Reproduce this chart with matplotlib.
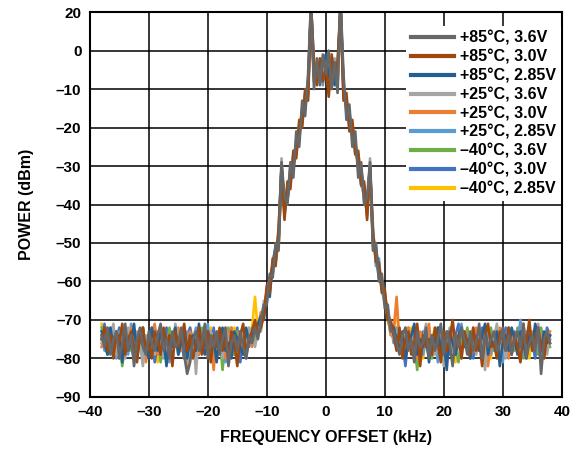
import numpy as np
import matplotlib
matplotlib.use('Agg')
import matplotlib.pyplot as plt

plt.rcParams['font.family'] = ['Liberation Sans', 'DejaVu Sans']
plt.rcParams['font.weight'] = 'bold'

# frequency grid of the traces (kHz), one point every 0.5 kHz
freq_start, freq_step = -38.0, 0.5

labels = ['+85°C, 3.6V', '+85°C, 3.0V', '+85°C, 2.85V',
          '+25°C, 3.6V', '+25°C, 3.0V', '+25°C, 2.85V',
          '–40°C, 3.6V', '–40°C, 3.0V', '–40°C, 2.85V']
colors = ['#676767', '#9E480E', '#255E91',
          '#A5A5A5', '#ED7D31', '#5B9BD5',
          '#70AD47', '#4472C4', '#FFC000']

# power readings (dBm): floor -38..-11.5 kHz, main lobe -11..11 kHz, floor 11.5..38 kHz
p85_36 = [-74, -77, -72, -79, -75, -73, -80, -76, -71, -78,
          -74, -82, -75, -72, -77, -79, -73, -76, -78, -74,
          -71, -78, -75, -80, -73, -77, -76, -72, -79, -84,
          -81, -75, -73, -78, -76, -71, -80, -74, -77, -73,
          -79, -75, -72, -82, -76, -74, -78, -73, -77, -80,
          -74, -76, -72, -75,
          -70, -66, -66, -58, -59, -50, -52, -29, -38, -40, -29, -33, -21, -25, -13,
          -17, -6, 13, -10, -2, -9, -1, -6, 0, -10, -3, -11, 13, -6, -18,
          -14, -25, -21, -33, -29, -40, -38, -29, -52, -50, -60, -58, -67, -66, -73,
          -73, -76, -79, -74, -72, -78, -75, -81, -73, -77,
          -76, -72, -80, -74, -78, -75, -71, -79, -73, -76,
          -82, -74, -77, -72, -75, -79, -73, -78, -76, -71,
          -80, -74, -77, -75, -73, -78, -76, -72, -78, -74,
          -79, -75, -73, -77, -71, -80, -76, -74, -78, -72,
          -84, -75, -73, -76]
p85_30 = [-75, -72, -78, -74, -80, -73, -76, -71, -79, -75,
          -73, -77, -81, -74, -72, -78, -76, -80, -73, -75,
          -79, -72, -76, -74, -82, -73, -77, -75, -71, -78,
          -74, -80, -76, -72, -79, -75, -73, -81, -74, -77,
          -72, -78, -75, -80, -73, -76, -82, -74, -71, -79,
          -75, -73, -70, -74,
          -72, -69, -61, -63, -54, -56, -46, -31, -44, -34, -36, -26, -28, -18, -20,
          -10, -13, 12, -3, -9, -2, -8, -4, -12, -1, -7, -3, 12, -13, -11,
          -21, -18, -27, -26, -35, -34, -44, -31, -47, -55, -55, -63, -62, -70, -70,
          -74, -78, -72, -80, -75, -73, -79, -76, -71, -82,
          -74, -77, -75, -79, -72, -76, -81, -73, -78, -75,
          -70, -77, -74, -80, -73, -76, -79, -72, -78, -75,
          -82, -74, -71, -77, -76, -80, -73, -75, -78, -72,
          -79, -74, -77, -81, -73, -76, -70, -78, -75, -72,
          -77, -80, -74, -76]
p85_285 = [-73, -76, -79, -72, -77, -75, -74, -81, -73, -78,
           -76, -71, -79, -75, -74, -77, -80, -72, -76, -78,
           -73, -75, -82, -74, -77, -72, -79, -76, -73, -80,
           -75, -74, -78, -71, -77, -79, -73, -76, -75, -81,
           -74, -72, -78, -76, -80, -73, -75, -77, -79, -72,
           -76, -74, -73, -71,
           -69, -70, -62, -64, -55, -51, -50, -30, -39, -39, -31, -31, -24, -22, -15,
           -15, -8, 11, -7, -4, -8, -3, -1, -7, -5, -9, -4, 11, -9, -15,
           -16, -22, -24, -30, -31, -36, -40, -30, -50, -51, -58, -60, -63, -69, -71,
           -72, -75, -78, -73, -80, -76, -74, -71, -79, -75,
           -77, -73, -81, -74, -76, -72, -78, -75, -83, -73,
           -76, -79, -74, -72, -77, -75, -80, -73, -76, -78,
           -74, -71, -79, -75, -77, -73, -82, -76, -74, -78,
           -72, -75, -79, -73, -76, -80, -74, -77, -71, -75,
           -78, -73, -76, -74]
p25_36 = [-76, -73, -78, -75, -71, -79, -74, -77, -80, -72,
          -75, -78, -73, -76, -82, -74, -77, -72, -79, -75,
          -73, -80, -76, -74, -78, -71, -75, -77, -73, -81,
          -76, -74, -84, -72, -77, -75, -79, -73, -76, -78,
          -74, -80, -72, -75, -77, -73, -79, -76, -74, -78,
          -72, -75, -77, -73,
          -73, -65, -65, -60, -56, -55, -48, -28, -42, -36, -34, -28, -26, -19, -18,
          -12, -11, 12, -5, -8, -4, -6, -2, -4, -7, -2, -8, 12, -12, -12,
          -19, -20, -26, -28, -34, -38, -42, -28, -48, -54, -56, -62, -66, -67, -72,
          -75, -73, -77, -79, -72, -76, -74, -80, -73, -78,
          -75, -71, -77, -74, -79, -76, -73, -82, -75, -72,
          -78, -74, -76, -80, -73, -77, -75, -72, -79, -74,
          -76, -83, -73, -77, -75, -71, -78, -74, -80, -76,
          -73, -77, -75, -79, -72, -76, -74, -78, -73, -71,
          -77, -75, -79, -74]
p25_30 = [-77, -74, -72, -78, -76, -73, -80, -75, -79, -74,
          -72, -76, -78, -75, -73, -81, -77, -74, -71, -79,
          -75, -73, -77, -80, -74, -76, -72, -78, -75, -82,
          -73, -77, -75, -79, -74, -72, -78, -76, -83, -73,
          -75, -77, -80, -74, -72, -78, -75, -73, -79, -76,
          -74, -77, -71, -72,
          -68, -68, -63, -59, -58, -52, -51, -32, -40, -38, -30, -30, -23, -23, -16,
          -14, -9, 13, -8, -5, -7, -2, -5, -3, -4, -8, -6, 13, -8, -16,
          -17, -23, -23, -31, -32, -39, -39, -32, -49, -53, -57, -59, -65, -69, -74,
          -73, -64, -76, -79, -74, -72, -78, -75, -80, -73,
          -77, -74, -71, -79, -76, -73, -78, -75, -81, -74,
          -72, -77, -75, -79, -73, -76, -80, -74, -72, -78,
          -75, -73, -82, -76, -74, -79, -72, -77, -75, -80,
          -73, -76, -78, -74, -71, -79, -75, -73, -77, -76,
          -74, -80, -75, -73]
p25_285 = [-74, -78, -75, -72, -77, -80, -73, -76, -74, -79,
           -71, -75, -77, -73, -80, -76, -74, -78, -72, -75,
           -79, -73, -76, -81, -74, -72, -78, -75, -77, -73,
           -80, -75, -72, -76, -78, -74, -71, -79, -75, -77,
           -73, -76, -81, -74, -72, -78, -75, -73, -77, -80,
           -75, -73, -74, -72,
           -71, -67, -64, -62, -55, -54, -47, -30, -43, -35, -35, -27, -27, -20, -19,
           -11, -12, 12, -4, -7, -3, -9, -3, -6, -2, -5, -9, 12, -11, -13,
           -20, -19, -27, -27, -33, -35, -43, -30, -46, -56, -54, -62, -64, -68, -71,
           -76, -72, -74, -78, -73, -77, -75, -80, -72, -76,
           -79, -74, -73, -77, -75, -81, -72, -78, -74, -76,
           -73, -79, -75, -71, -77, -74, -80, -76, -73, -78,
           -75, -72, -77, -79, -74, -76, -73, -81, -75, -72,
           -78, -74, -76, -70, -79, -73, -77, -75, -72, -78,
           -74, -76, -73, -75]
m40_36 = [-72, -76, -79, -74, -77, -73, -75, -82, -76, -74,
          -78, -73, -80, -75, -72, -77, -79, -74, -76, -73,
          -81, -75, -78, -72, -76, -74, -79, -77, -73, -75,
          -80, -74, -76, -78, -72, -77, -75, -73, -79, -76,
          -74, -83, -75, -72, -77, -79, -73, -76, -74, -78,
          -75, -72, -76, -73,
          -70, -69, -62, -61, -58, -51, -50, -31, -40, -39, -32, -29, -25, -21, -16,
          -14, -9, 11, -8, -3, -6, -5, -2, -9, -3, -6, -5, 11, -10, -14,
          -17, -22, -25, -29, -33, -36, -41, -31, -51, -52, -58, -61, -64, -70, -73,
          -74, -77, -73, -79, -75, -72, -78, -76, -83, -74,
          -77, -75, -73, -80, -76, -72, -78, -74, -79, -75,
          -73, -77, -81, -74, -76, -72, -79, -75, -77, -73,
          -76, -80, -74, -72, -78, -75, -77, -73, -79, -76,
          -74, -78, -72, -75, -80, -76, -73, -77, -75, -79,
          -72, -76, -74, -77]
m40_30 = [-75, -71, -77, -74, -78, -76, -72, -79, -75, -73,
          -77, -80, -74, -76, -72, -78, -75, -73, -81, -76,
          -74, -77, -72, -79, -75, -73, -78, -76, -80, -74,
          -72, -77, -75, -79, -73, -76, -74, -78, -72, -80,
          -75, -73, -77, -76, -74, -79, -72, -81, -75, -73,
          -77, -74, -75, -73,
          -72, -67, -65, -59, -56, -55, -49, -30, -42, -38, -33, -30, -24, -22, -17,
          -13, -11, 12, -6, -6, -5, -4, -4, -5, -6, -4, -7, 12, -9, -15,
          -18, -21, -24, -30, -35, -37, -40, -30, -49, -53, -59, -61, -65, -68, -72,
          -75, -73, -78, -76, -82, -74, -77, -72, -79, -75,
          -73, -76, -80, -74, -78, -72, -75, -77, -73, -79,
          -76, -74, -71, -78, -75, -73, -77, -80, -74, -76,
          -72, -79, -75, -73, -77, -74, -78, -76, -72, -75,
          -79, -73, -77, -75, -71, -78, -74, -76, -80, -73,
          -75, -77, -72, -74]
m40_285 = [-71, -75, -73, -78, -74, -76, -72, -79, -75, -77,
           -73, -76, -80, -74, -72, -78, -75, -73, -77, -81,
           -74, -76, -72, -79, -75, -73, -77, -74, -80, -76,
           -72, -75, -78, -73, -76, -74, -79, -72, -77, -75,
           -73, -80, -76, -74, -78, -72, -75, -77, -73, -76,
           -74, -72, -64, -73,
           -70, -68, -64, -61, -57, -54, -48, -31, -41, -37, -34, -28, -26, -21, -17,
           -14, -10, 11, -7, -6, -4, -6, -3, -5, -5, -6, -7, 11, -10, -14,
           -18, -21, -26, -29, -33, -37, -42, -31, -48, -53, -57, -62, -64, -69, -72,
           -74, -66, -77, -73, -79, -75, -72, -78, -76, -74,
           -80, -73, -77, -75, -72, -79, -74, -76, -73, -78,
           -75, -81, -74, -72, -77, -76, -73, -79, -75, -74,
           -78, -72, -76, -80, -73, -75, -77, -74, -79, -72,
           -76, -74, -78, -75, -73, -77, -80, -74, -76, -72,
           -75, -78, -73, -75]

series = [p85_36, p85_30, p85_285, p25_36, p25_30, p25_285, m40_36, m40_30, m40_285]

x_ticks = [-40, -30, -20, -10, 0, 10, 20, 30, 40]
y_ticks = [-90, -80, -70, -60, -50, -40, -30, -20, -10, 0, 10]
y_tick_labels = ['–90', '–80', '–70', '–60', '–50', '–40', '–30', '–20', '–10', '0', '20']

fig = plt.figure(figsize=(5.87, 4.5), dpi=100)
ax = fig.add_axes([0.153, 0.118, 0.804, 0.855])

handles = [None] * len(series)
for i in reversed(range(len(series))):
    vals = np.array(series[i], dtype=float)
    assert len(vals) == 153, (labels[i], len(vals))
    f = freq_start + freq_step * np.arange(len(vals))
    handles[i], = ax.plot(f, vals, color=colors[i], lw=1.9)

ax.set_xlim(-40, 40)
ax.set_ylim(-90, 10)
ax.set_xticks(x_ticks)
ax.set_xticklabels([str(t).replace('-', '–') for t in x_ticks])
ax.set_yticks(y_ticks)
ax.set_yticklabels(y_tick_labels)
ax.tick_params(length=0, pad=6, labelsize=11)
ax.grid(True, color='black', lw=1.1)
ax.set_axisbelow(True)
for s in ax.spines.values():
    s.set_linewidth(1.5)
    s.set_color('black')

ax.set_xlabel('FREQUENCY OFFSET (kHz)', fontsize=11.5, fontweight='bold', labelpad=8)
ax.set_ylabel('POWER (dBm)', fontsize=11.5, fontweight='bold', labelpad=16)

leg = ax.legend(handles, labels, loc='upper right', bbox_to_anchor=(0.998, 0.965),
                fontsize=11.5, frameon=True, facecolor='white', edgecolor='none',
                framealpha=1, fancybox=False, handlelength=2.7, handletextpad=0.4,
                labelspacing=0.24, borderaxespad=0, borderpad=0.3)
for ln in leg.get_lines():
    ln.set_linewidth(3)

fig.savefig('out.png', dpi=100)
